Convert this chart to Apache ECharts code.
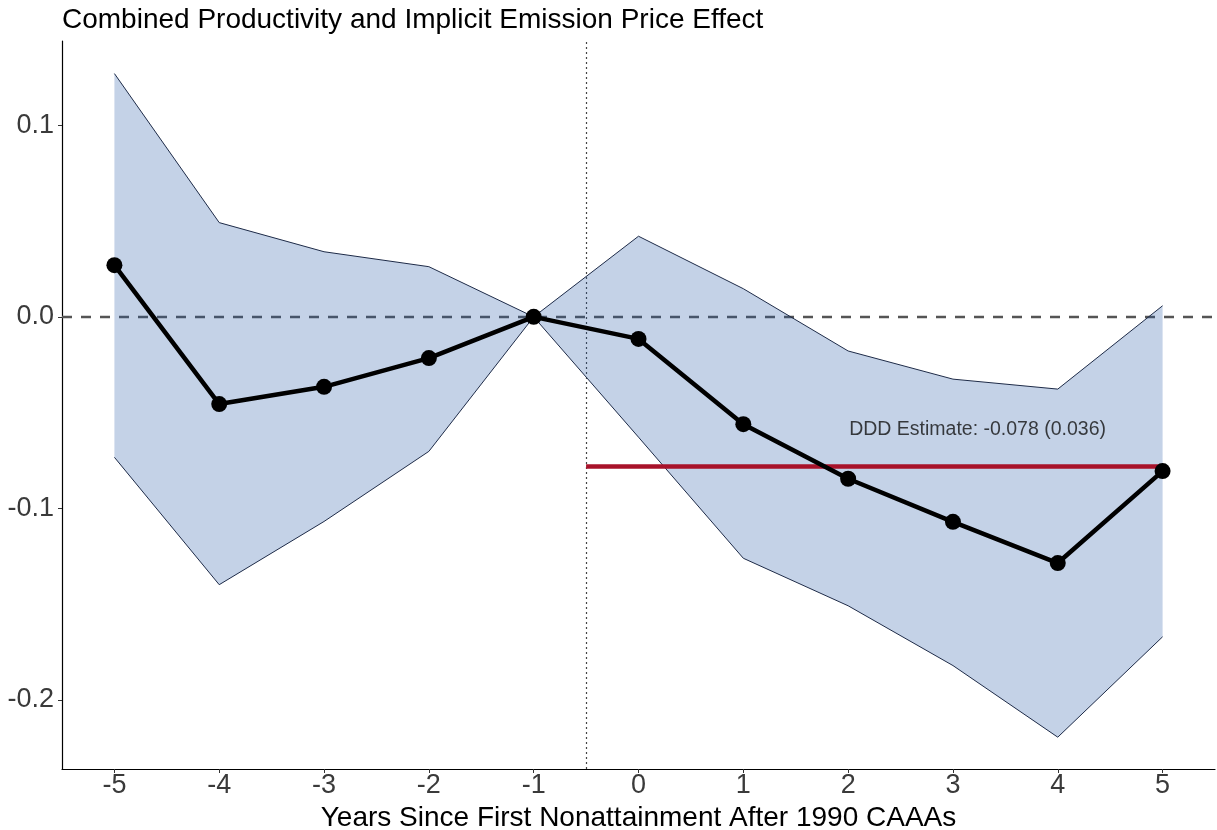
<!DOCTYPE html>
<html>
<head>
<meta charset="utf-8">
<script src="https://cdn.jsdelivr.net/npm/echarts@6/dist/echarts.min.js"></script>
<style>
html,body{margin:0;padding:0;background:#fff;}
#chart{width:1217px;height:830px;}
</style>
</head>
<body>
<div id="chart"></div>
<script>
// ---- data ----
const years = [-5, -4, -3, -2, -1, 0, 1, 2, 3, 4, 5];
const estimate = [0.027, -0.0455, -0.0365, -0.0215, 0, -0.0115, -0.056, -0.0845, -0.107, -0.1285, -0.0805];
const upper = [0.127, 0.0492, 0.034, 0.0262, 0, 0.0421, 0.0147, -0.0178, -0.0325, -0.0377, 0.0058];
const lower = [-0.0733, -0.1398, -0.1068, -0.0702, 0, -0.0628, -0.126, -0.1508, -0.182, -0.2194, -0.167];
const xTicks = [-5, -4, -3, -2, -1, 0, 1, 2, 3, 4, 5];
const yTicks = [-0.2, -0.1, 0, 0.1];
const treatStart = -0.5;
const dddEstimate = -0.078;
const dddEnd = 5;
const dddText = 'DDD Estimate: -0.078 (0.036)';
const annotX = 3.235;
const annotY = -0.0587;
const titleText = 'Combined Productivity and Implicit Emission Price Effect';
const xTitle = 'Years Since First Nonattainment After 1990 CAAAs';

// ---- chart ----
const FONT = '"Liberation Sans", Arial, Helvetica, sans-serif';
const chart = echarts.init(document.getElementById('chart'), null, {renderer: 'canvas'});

const pairs = (xs, ys) => xs.map((x, i) => [x, ys[i]]);
const bandData = years.map((x, i) => [x, lower[i], upper[i]]);

const option = {
  animation: false,
  backgroundColor: '#ffffff',
  title: {
    text: titleText,
    left: 62, top: 6, padding: 0,
    textStyle: {fontFamily: FONT, fontSize: 28, fontWeight: 'normal', color: '#000'}
  },
  grid: {left: 62, right: 2, top: 41, bottom: 61, containLabel: false, outerBoundsMode: 'none'},
  xAxis: {
    type: 'value', min: -5.5, max: 5.5,
    splitLine: {show: false},
    axisLine: {show: true, onZero: false, lineStyle: {color: '#000', width: 1.2}},
    axisTick: {show: true, length: 4, customValues: xTicks, lineStyle: {color: '#333'}},
    axisLabel: {customValues: xTicks, margin: 3, fontFamily: FONT, fontSize: 27, color: '#3a3a3a',
      formatter: v => String(v)},
    name: xTitle, nameLocation: 'middle', nameGap: 27,
    nameTextStyle: {fontFamily: FONT, fontSize: 28, color: '#000'}
  },
  yAxis: {
    type: 'value', min: -0.236, max: 0.144,
    splitLine: {show: false},
    axisLine: {show: true, onZero: false, lineStyle: {color: '#000', width: 1.2}},
    axisTick: {show: true, length: 4, customValues: yTicks, lineStyle: {color: '#333'}},
    axisLabel: {customValues: yTicks, margin: 8, fontFamily: FONT, fontSize: 27, color: '#3a3a3a',
      formatter: v => v.toFixed(1)}
  },
  series: [
    {
      type: 'line', data: [], z: 1, silent: true,
      markLine: {
        silent: true, symbol: 'none', z: 1, animation: false,
        label: {show: false},
        data: [
          {yAxis: 0, lineStyle: {color: '#555', width: 2.4, type: [10, 9]}},
          {xAxis: treatStart, lineStyle: {color: '#444', width: 1.2, type: [2, 3]}}
        ]
      }
    },
    {
      type: 'custom', z: 2, silent: true, clip: true,
      data: bandData,
      encode: {x: 0, y: [1, 2]},
      renderItem: function (params, api) {
        if (params.dataIndex !== 0) return null;
        const pts = [];
        for (let i = 0; i < bandData.length; i++) pts.push(api.coord([bandData[i][0], bandData[i][2]]));
        for (let i = bandData.length - 1; i >= 0; i--) pts.push(api.coord([bandData[i][0], bandData[i][1]]));
        return {type: 'polygon', shape: {points: pts}, style: {fill: 'rgba(35,85,165,0.265)', stroke: null}};
      }
    },
    {
      type: 'line', z: 3, data: pairs(years, upper), showSymbol: false, symbol: 'none', silent: true,
      lineStyle: {color: '#1e2b48', width: 1}
    },
    {
      type: 'line', z: 3, data: pairs(years, lower), showSymbol: false, symbol: 'none', silent: true,
      lineStyle: {color: '#1e2b48', width: 1}
    },
    {
      type: 'line', data: [], z: 4, silent: true,
      markLine: {
        silent: true, symbol: 'none', z: 4, animation: false,
        label: {show: false},
        lineStyle: {color: '#a8122a', width: 4.5, type: 'solid'},
        data: [[{coord: [treatStart, dddEstimate]}, {coord: [dddEnd, dddEstimate]}]]
      }
    },
    {
      type: 'line', z: 10, data: pairs(years, estimate), silent: true,
      symbol: 'circle', symbolSize: 16, showSymbol: true,
      itemStyle: {color: '#000'},
      lineStyle: {color: '#000', width: 4.5}
    },
    {
      type: 'scatter', z: 11, silent: true, symbolSize: 0,
      data: [[annotX, annotY]],
      label: {show: true, position: 'inside', formatter: dddText,
        fontFamily: FONT, fontSize: 19.5, color: '#111'}
    }
  ]
};
chart.setOption(option);
</script>
</body>
</html>
